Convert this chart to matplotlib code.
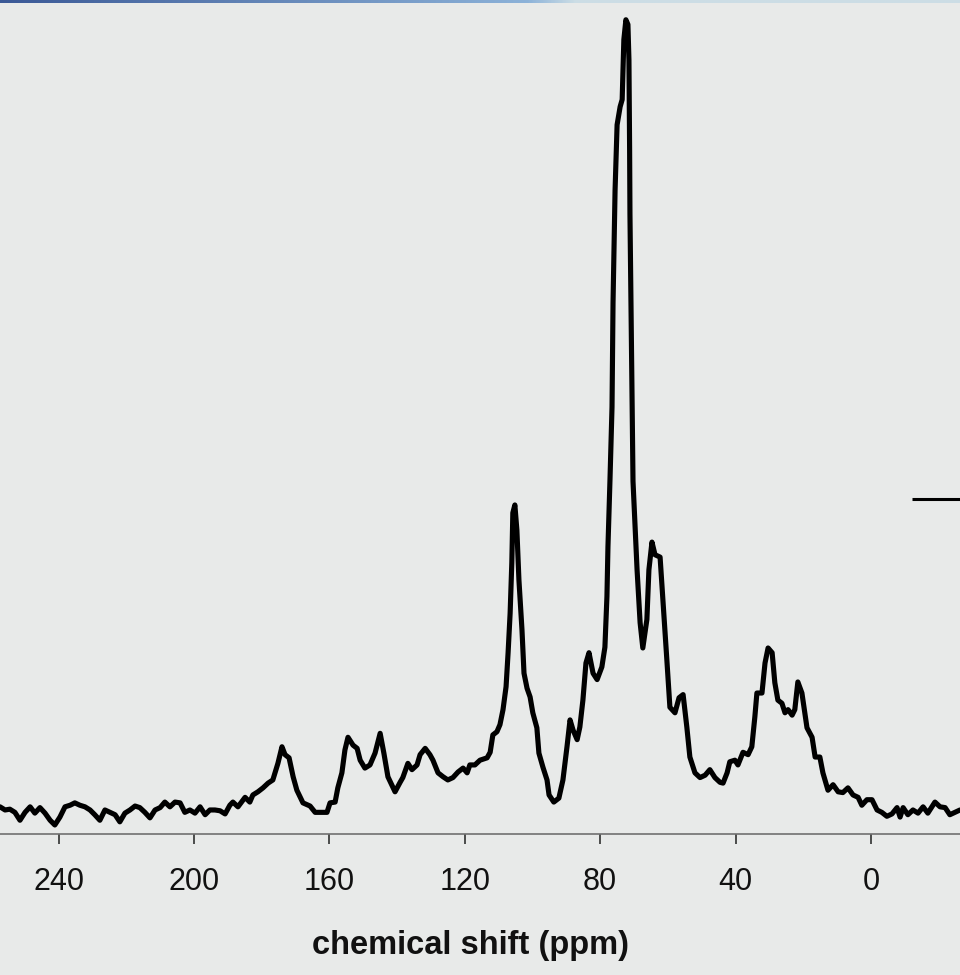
import matplotlib
matplotlib.use("Agg")
import matplotlib.pyplot as plt
import numpy as np

plt.rcParams['font.family'] = ['Liberation Sans', 'DejaVu Sans']

# 13C NMR spectrum: chemical shift (ppm) and intensity (main peak = 100)
ppm = [257.3, 255.8, 254.4, 252.9, 251.4, 249.9, 248.4, 247.0, 245.5, 244.0,
       242.5, 241.1, 239.6, 238.1, 236.6, 235.2, 233.7, 232.2, 230.7, 229.3,
       227.8, 226.3, 224.8, 223.3, 221.9, 220.4, 218.9, 217.4, 216.0, 214.5,
       213.0, 211.5, 210.0, 208.6, 207.1, 205.6, 204.1, 202.7, 201.2, 199.7,
       198.2, 196.7, 195.3, 193.8, 192.3, 190.8, 189.4, 188.5, 187.0, 184.9,
       183.5, 182.6, 181.1, 179.6, 178.1, 176.7, 175.2, 174.0, 173.1, 171.9,
       170.7, 169.6, 167.8, 165.7, 164.2, 162.8, 160.7, 159.8, 158.3, 157.5,
       156.3, 155.4, 154.5, 153.0, 151.8, 150.9, 149.5, 148.0, 146.5, 145.0,
       143.9, 142.7, 140.6, 139.1, 138.3, 136.8, 135.6, 134.1, 133.2, 131.7,
       130.3, 129.4, 127.9, 126.4, 125.0, 123.5, 122.0, 120.5, 119.3, 118.5,
       117.0, 115.5, 113.4, 112.5, 111.7, 110.5, 109.6, 108.7, 107.8, 107.2,
       106.6, 106.1, 105.8, 105.2, 104.6, 104.0, 103.1, 102.5, 101.6, 100.7,
       99.9, 98.7, 98.1, 96.9, 95.7, 95.1, 93.7, 92.2, 91.0, 89.8,
       88.9, 88.0, 86.8, 86.0, 85.1, 84.2, 83.3, 82.1, 80.9, 79.5,
       78.6, 78.0, 77.7, 77.1, 76.5, 76.2, 75.6, 75.0, 74.1, 73.5,
       73.3, 73.0, 72.4, 71.8, 71.5, 71.3, 71.2, 70.6, 70.3, 69.1,
       68.2, 67.4, 66.2, 65.6, 64.7, 63.8, 62.3, 61.4, 60.3, 59.4,
       57.9, 56.7, 55.5, 54.4, 53.5, 52.0, 50.5, 49.0, 47.6, 46.1,
       44.6, 43.7, 42.5, 41.7, 40.2, 39.3, 37.8, 36.3, 35.2, 34.3,
       33.7, 32.2, 31.3, 30.4, 29.2, 28.4, 27.5, 26.3, 25.4, 24.5,
       23.3, 22.5, 21.6, 20.4, 18.9, 17.4, 16.5, 15.1, 14.2, 12.7,
       11.2, 9.7, 8.3, 6.8, 5.3, 3.8, 2.7, 1.2, -0.3, -1.8,
       -3.2, -4.7, -6.2, -7.7, -8.6, -9.5, -10.9, -12.4, -13.9, -15.4,
       -16.8, -18.9, -20.4, -21.9, -23.3, -24.8, -26.3]
intensity = [0.4, 0.0, 0.1, -0.3, -1.3, -0.3, 0.4, -0.4, 0.3, -0.4,
             -1.3, -1.9, -0.9, 0.4, 0.6, 0.9, 0.6, 0.4, 0.0, -0.6,
             -1.3, 0.0, -0.3, -0.6, -1.5, -0.4, 0.0, 0.5, 0.3, -0.3,
             -1.0, 0.0, 0.3, 1.0, 0.4, 1.0, 0.9, -0.3, 0.0, -0.4,
             0.4, -0.6, 0.0, 0.0, -0.1, -0.5, 0.6, 1.0, 0.4, 1.6,
             1.0, 1.9, 2.3, 2.8, 3.4, 3.8, 5.9, 8.0, 7.0, 6.6,
             4.2, 2.5, 0.9, 0.5, -0.3, -0.3, -0.3, 0.9, 1.0, 2.8,
             4.7, 7.6, 9.2, 8.2, 7.8, 6.3, 5.3, 5.7, 7.2, 9.7,
             7.2, 4.2, 2.3, 3.5, 4.1, 5.9, 5.1, 5.7, 7.0, 7.8,
             7.0, 6.3, 4.7, 4.2, 3.8, 4.1, 4.8, 5.3, 4.7, 5.7,
             5.7, 6.3, 6.6, 7.3, 9.5, 9.9, 10.8, 12.7, 15.6, 19.9,
             24.9, 31.3, 37.6, 38.6, 35.4, 29.1, 22.8, 17.3, 15.4, 14.3,
             12.3, 10.4, 7.2, 5.4, 3.8, 1.9, 1.0, 1.5, 3.8, 8.0,
             11.4, 10.1, 8.9, 10.5, 13.9, 18.6, 19.9, 17.3, 16.5, 18.1,
             20.6, 27.0, 33.3, 41.8, 51.0, 64.2, 78.4, 86.7, 89.0, 89.9,
             93.0, 97.5, 100.0, 99.4, 94.9, 83.5, 75.4, 52.9, 41.6, 30.4,
             23.7, 20.5, 24.1, 30.4, 33.9, 32.3, 32.0, 26.2, 19.0, 13.0,
             12.3, 14.2, 14.6, 10.5, 6.7, 4.7, 4.1, 4.4, 5.1, 4.1,
             3.5, 3.4, 4.7, 6.1, 6.3, 5.7, 7.3, 7.0, 8.0, 11.8,
             14.8, 14.8, 18.6, 20.5, 19.9, 16.1, 13.9, 13.5, 12.3, 12.7,
             12.0, 12.7, 16.2, 14.8, 10.4, 9.2, 6.7, 6.7, 4.7, 2.5,
             3.2, 2.3, 2.2, 2.8, 1.9, 1.6, 0.6, 1.3, 1.3, 0.0,
             -0.3, -0.8, -0.5, 0.3, -0.9, 0.3, -0.6, 0.0, -0.4, 0.4,
             -0.4, 1.0, 0.4, 0.3, -0.6, -0.3, 0.0]

# short horizontal bar on the right edge
bar_ppm = [-12.1, -27.0]
bar_int = [39.4, 39.4]

xticks = [240, 200, 160, 120, 80, 40, 0]

bg = '#e8eae9'
fig = plt.figure(figsize=(9.6, 9.75), dpi=100, facecolor=bg)
ax = fig.add_axes([0, 1 - 834 / 975, 1, 834 / 975])
ax.set_facecolor(bg)

ax.plot(ppm, intensity, color='black', lw=3.7, solid_joinstyle='round',
        solid_capstyle='round')
ax.plot(bar_ppm, bar_int, color='black', lw=2.2, solid_capstyle='butt')

ax.set_xlim(257.3, -26.3)
ax.set_ylim(-3.04, 102.5)

for s in ['top', 'left', 'right']:
    ax.spines[s].set_visible(False)
ax.spines['bottom'].set_color('#707070')
ax.spines['bottom'].set_linewidth(1.2)
ax.set_yticks([])
ax.set_xticks(xticks)
ax.set_xticklabels([str(t) for t in xticks])
ax.tick_params(axis='x', direction='out', length=7, width=1.2, color='#303030',
               labelsize=22, labelcolor='#111111', pad=17)
ax.set_xlabel('chemical shift (ppm)', fontsize=23.5, fontweight='bold',
              color='#111111')
ax.xaxis.set_label_coords(471 / 960, -0.115)

# thin blue gradient strip across the top
top = fig.add_axes([0, 1 - 3 / 975, 1, 3 / 975])
top.axis('off')
grad = np.linspace(0, 1, 256)
cols = np.array([[0.23, 0.35, 0.59], [0.55, 0.70, 0.85], [0.80, 0.87, 0.90]])
rgb = np.empty((1, 256, 3))
for i in range(3):
    rgb[0, :, i] = np.interp(grad, [0, 0.55, 0.6], cols[:, i])
top.imshow(rgb, aspect='auto', extent=[0, 1, 0, 1])

fig.savefig('out.png', dpi=100, facecolor=bg)
